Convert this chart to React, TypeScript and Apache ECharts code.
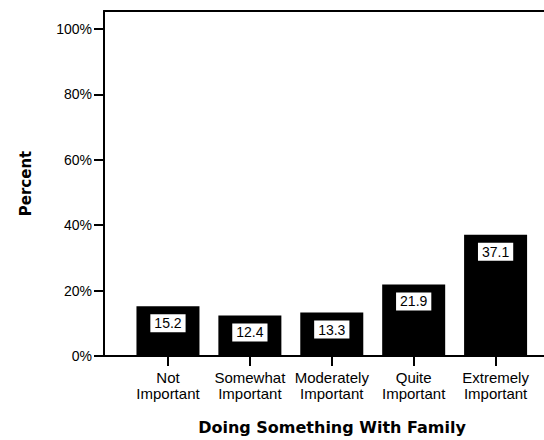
import React, { useEffect, useRef } from "react";
import * as echarts from "echarts";

const categories = [
  "Not Important",
  "Somewhat Important",
  "Moderately Important",
  "Quite Important",
  "Extremely Important",
];
const percents = [15.2, 12.4, 13.3, 21.9, 37.1];
const yTicks = [0, 20, 40, 60, 80, 100];
const xTicks = [0, 1, 2, 3, 4];
const xTitle = "Doing Something With Family";
const yTitle = "Percent";

const labelFont = "'Liberation Sans', Arial, sans-serif";
const titleFont = "'DejaVu Sans', Verdana, sans-serif";

export default function App() {
  const ref = useRef<HTMLDivElement>(null);
  useEffect(() => {
    document.body.style.margin = "0";
    if (!ref.current) return;
    const chart = echarts.init(ref.current, undefined, { renderer: "svg" });
    const xMin = -0.781;
    const xMax = 4.591;
    chart.setOption({
      animation: false,
      backgroundColor: "#fff",
      grid: { left: 104, right: 0, top: 11, bottom: 84 },
      xAxis: [
        {
          type: "value",
          min: xMin,
          max: xMax,
          position: "bottom",
          name: xTitle,
          nameLocation: "middle",
          nameGap: 63,
          nameTextStyle: {
            fontFamily: titleFont,
            fontWeight: "bold",
            fontSize: 16,
            color: "#000",
            padding: [0, 0, 0, 16],
          },
          axisLine: { show: true, onZero: false, lineStyle: { color: "#000", width: 2 } },
          axisTick: {
            show: true,
            customValues: xTicks,
            length: 10,
            lineStyle: { color: "#000", width: 2 },
          },
          axisLabel: {
            show: true,
            customValues: xTicks,
            formatter: (v: number) => categories[Math.round(v)].replace(" ", "\n"),
            fontFamily: labelFont,
            fontSize: 15,
            lineHeight: 16,
            color: "#000",
            margin: 13,
          },
          splitLine: { show: false },
        },
        {
          type: "value",
          min: xMin,
          max: xMax,
          position: "top",
          axisLine: { show: true, onZero: false, lineStyle: { color: "#000", width: 2 } },
          axisTick: { show: false },
          axisLabel: { show: false },
          splitLine: { show: false },
        },
      ],
      yAxis: {
        type: "value",
        min: 0,
        max: 105.5,
        name: yTitle,
        nameLocation: "middle",
        nameRotate: 90,
        nameGap: 71,
        nameTextStyle: {
          fontFamily: titleFont,
          fontWeight: "bold",
          fontSize: 15,
          color: "#000",
        },
        axisLine: { show: true, onZero: false, lineStyle: { color: "#000", width: 2 } },
        axisTick: {
          show: true,
          customValues: yTicks,
          length: 10,
          lineStyle: { color: "#000", width: 2 },
        },
        axisLabel: {
          show: true,
          customValues: yTicks,
          formatter: (v: number) => v + "%",
          fontFamily: labelFont,
          fontSize: 14,
          color: "#000",
          margin: 12,
        },
        splitLine: { show: false },
      },
      series: [
        {
          type: "bar",
          xAxisIndex: 0,
          data: percents.map((p, i) => [i, p]),
          barWidth: 63,
          itemStyle: { color: "#000" },
          label: {
            show: true,
            position: "insideTop",
            distance: 8,
            formatter: (p: any) => p.value[1].toFixed(1),
            fontFamily: labelFont,
            fontSize: 14,
            lineHeight: 16,
            color: "#000",
            backgroundColor: "#fff",
            padding: [1, 4, 1, 4],
          },
        },
      ],
    });
    return () => chart.dispose();
  }, []);
  return <div ref={ref} style={{ width: 544, height: 440 }} />;
}
